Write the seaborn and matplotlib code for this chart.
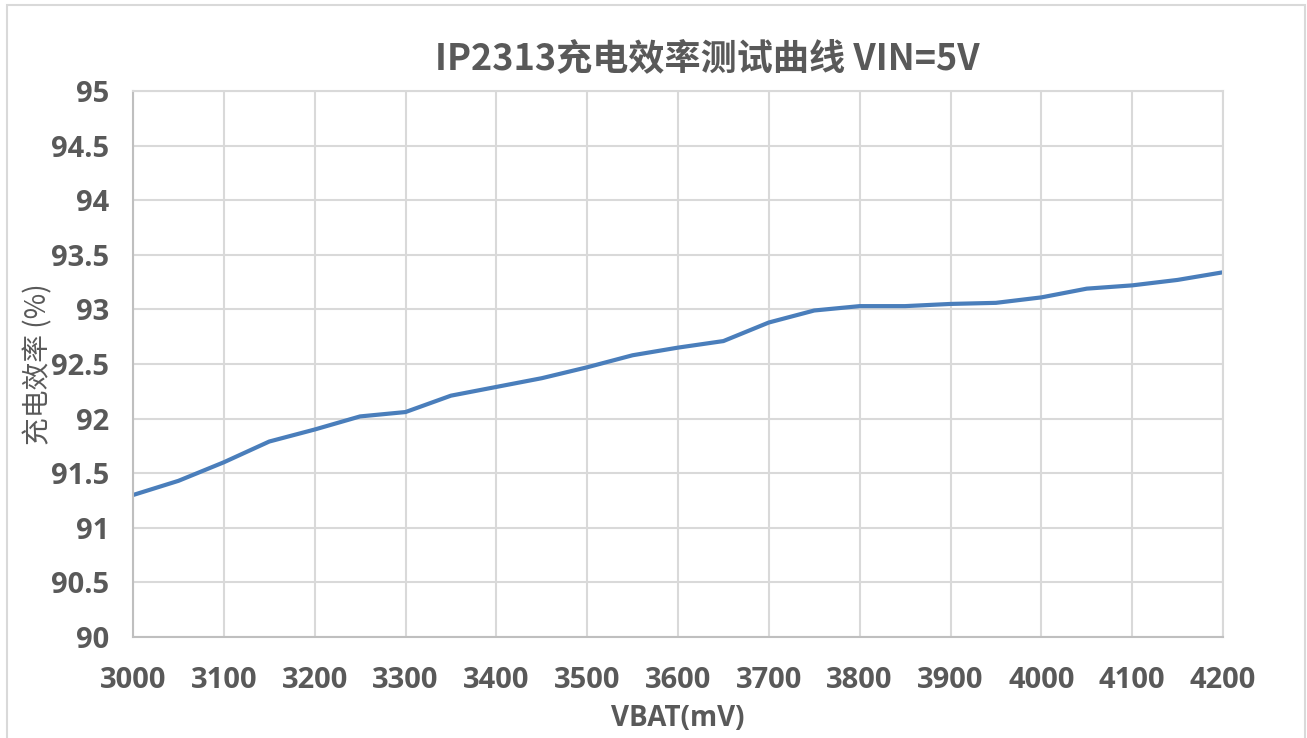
import matplotlib
matplotlib.use("Agg")
import matplotlib.pyplot as plt
import seaborn as sns
import pandas as pd
from matplotlib.patches import Rectangle

# VBAT (mV) 和 充电效率 (%) — 从图上读取
vbat = [3000, 3050, 3100, 3150, 3200, 3250, 3300, 3350, 3400, 3450, 3500, 3550,
        3600, 3650, 3700, 3750, 3800, 3850, 3900, 3950, 4000, 4050, 4100, 4150, 4200]
eff = [91.30, 91.43, 91.60, 91.79, 91.90, 92.02, 92.06, 92.21, 92.29, 92.37, 92.47, 92.58,
       92.65, 92.71, 92.88, 92.99, 93.03, 93.03, 93.05, 93.06, 93.11, 93.19, 93.22, 93.27, 93.34]
x_ticks = list(range(3000, 4201, 100))
y_ticks = [90, 90.5, 91, 91.5, 92, 92.5, 93, 93.5, 94, 94.5, 95]
y_labels = ["90", "90.5", "91", "91.5", "92", "92.5", "93", "93.5", "94", "94.5", "95"]

sns.set_style("white")
plt.rcParams["font.family"] = ["Open Sans", "Noto Sans CJK SC", "DejaVu Sans"]

df = pd.DataFrame({"vbat": vbat, "eff": eff})
grey = "#595959"

fig = plt.figure(figsize=(13.07, 7.38), dpi=100)
ax = fig.add_axes([133 / 1307, 1 - 637 / 738, 1090 / 1307, 546 / 738])

sns.lineplot(data=df, x="vbat", y="eff", ax=ax, color="#4a7ebb", linewidth=3)

ax.set_xlim(3000, 4200)
ax.set_ylim(90, 95)
ax.set_xticks(x_ticks, [str(v) for v in x_ticks], fontweight="bold")
ax.set_yticks(y_ticks, y_labels, fontweight="bold")
ax.grid(True, color="#d9d9d9", linewidth=1.5)
for s in ax.spines.values():
    s.set_color("#d9d9d9")
    s.set_linewidth(1.5)
ax.spines["left"].set_color("#bfbfbf")
ax.spines["bottom"].set_color("#bfbfbf")
ax.tick_params(length=0, labelsize=21, colors=grey)
ax.tick_params(axis="x", pad=21)
ax.tick_params(axis="y", pad=17)

ax.set_xlabel("VBAT(mV)", fontsize=20, fontweight="bold", color=grey, labelpad=6)
ax.set_ylabel("充电效率 (%)", fontsize=20, color=grey,
              family=["Noto Sans CJK SC", "DejaVu Sans"])
ax.yaxis.set_label_coords((38 - 133) / 1090, 0.5)
ax.yaxis.label.set_va("center")
ax.set_title("IP2313充电效率测试曲线 VIN=5V", fontsize=26, fontweight="bold",
             color=grey, family=["Noto Sans CJK SC", "DejaVu Sans"], pad=16, x=0.527)

# 外框
fig.patches.append(Rectangle((7 / 1307, -0.01), 1298 / 1307, 1 - 5 / 738 + 0.01,
                             transform=fig.transFigure, fill=False,
                             edgecolor="#d9d9d9", linewidth=1.5))

fig.savefig("out.png", dpi=100)
